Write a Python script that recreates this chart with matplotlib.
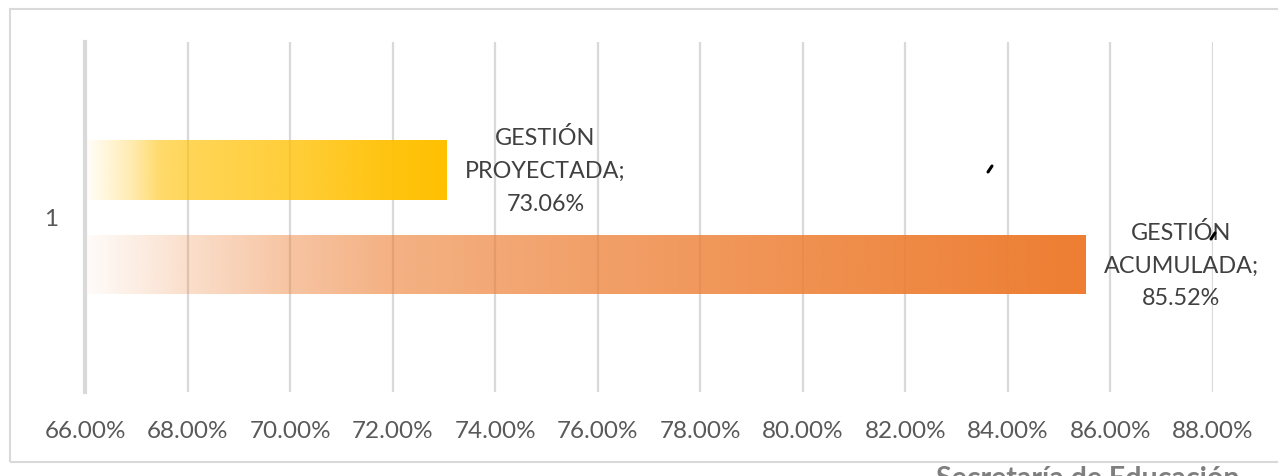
import matplotlib.pyplot as plt
import matplotlib.patches as mpatches
from matplotlib.lines import Line2D
import numpy as np

plt.rcParams['font.family'] = ['Lato', 'DejaVu Sans']

# datos
series = ['GESTIÓN PROYECTADA', 'GESTIÓN ACUMULADA']
valores = [73.06, 85.52]
colores = ['#FFC000', '#ED7D31']
categoria = '1'
xticks = np.arange(66, 89, 2)

# rampas de opacidad del degradado (estilo)
rampas = [
    ([0, 0.12, 0.2, 0.3, 0.57, 0.82, 1], [0.03, 0.3, 0.58, 0.67, 0.78, 0.93, 1]),
    ([0, 0.1, 0.2, 0.3, 0.5, 0.7, 1], [0.03, 0.25, 0.45, 0.6, 0.73, 0.84, 1]),
]

W, H = 1278, 477
fig = plt.figure(figsize=(W / 100, H / 100), dpi=100)
ax = fig.add_axes([85 / W, 1 - 393 / H, (1213 - 85) / W, 350 / H])

gris = '#595959'
offs = [0.47, -0.475]
alto = 0.6
ax.set_xlim(66, 88)
ax.set_ylim(-1.75, 1.75)

for x in xticks[1:]:
    ax.axvline(x, color='#D9D9D9', lw=1.6, zorder=0)

for val, col, off, (fx, fa), nombre in zip(valores, colores, offs, rampas, series):
    bars = ax.barh(off, val - 66, left=66.04, height=alto, color='none', zorder=2)
    rect = bars[0]
    rgb = np.array(plt.matplotlib.colors.to_rgb(col))
    t = np.linspace(0, 1, 400)
    a = np.interp(t, fx, fa)
    img = np.zeros((1, 400, 4))
    img[0, :, :3] = rgb
    img[0, :, 3] = a
    im = ax.imshow(img, extent=[66.04, val, off - alto / 2, off + alto / 2],
                   aspect='auto', zorder=1, interpolation='bilinear')
    im.set_clip_path(rect)
    etiqueta = nombre.replace(' ', '\n') + ';\n' + f'{val:.2f}%'
    ax.annotate(etiqueta, xy=(val, off), xytext=(13, 0), textcoords='offset points',
                ha='left', va='center', multialignment='center', fontsize=16.8,
                color='#404040', linespacing=1.7)

ax.set_xticks(xticks)
ax.set_xticklabels([f'{x:.2f}%' for x in xticks])
ax.set_yticks([0])
ax.set_yticklabels([categoria])
ax.tick_params(axis='x', length=0, pad=20, labelsize=17.5, labelcolor=gris)
ax.tick_params(axis='y', length=0, pad=19, labelsize=17.5, labelcolor=gris)
for s in ['top', 'right', 'bottom']:
    ax.spines[s].set_visible(False)
ax.spines['left'].set_color('#D9D9D9')
ax.spines['left'].set_linewidth(3)
ax.spines['left'].set_zorder(0)

# marco del gráfico
fig.add_artist(mpatches.Rectangle((10 / W, 1 - 463 / H), 1.0, (463 - 10) / H,
                                  transform=fig.transFigure, fill=False,
                                  ec='#D9D9D9', lw=1.5))

# trazos sueltos de la imagen original
for px, py in [(990, 170), (1213, 237)]:
    fig.add_artist(Line2D([(px - 2) / W, (px + 2) / W], [1 - (py + 3) / H, 1 - (py - 3) / H],
                          transform=fig.transFigure, color='black', lw=2.2,
                          solid_capstyle='round'))

fig.text(1088 / W, 1 - 487 / H, 'Secretaría de Educación', fontsize=20.5, weight='bold',
         color='#7F7F7F', ha='center', va='baseline')

fig.savefig('out.png', dpi=100)
